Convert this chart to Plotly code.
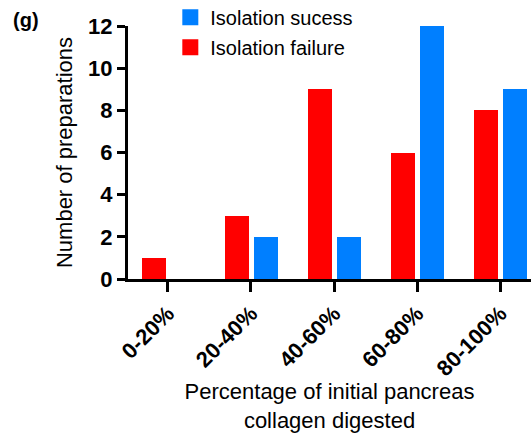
import plotly.graph_objects as go

categories = ["0-20%", "20-40%", "40-60%", "60-80%", "80-100%"]
failure = [1, 3, 9, 6, 8]
success = [0, 2, 2, 12, 9]
y_ticks = [0, 2, 4, 6, 8, 10, 12]

FONT = "Liberation Sans, Arial, sans-serif"
BLUE = "#007FFF"
RED = "#FF0000"

fig = go.Figure()
fig.add_trace(go.Bar(
    x=categories, y=success, name="Isolation sucess",
    marker=dict(color=BLUE, line=dict(width=0)),
    offset=0.035, width=0.29, showlegend=False,
))
fig.add_trace(go.Bar(
    x=categories, y=failure, name="Isolation failure",
    marker=dict(color=RED, line=dict(width=0)),
    offset=-0.315, width=0.29, showlegend=False,
))
# legend entries with larger square swatches
fig.add_trace(go.Scatter(
    x=[None], y=[None], mode="markers", name="Isolation sucess",
    marker=dict(symbol="square", size=22, color=BLUE), legendgroup="s",
))
fig.add_trace(go.Scatter(
    x=[None], y=[None], mode="markers", name="Isolation failure",
    marker=dict(symbol="square", size=22, color=RED), legendgroup="f",
))

fig.update_layout(
    width=531, height=433,
    margin=dict(l=128, r=0, t=26, b=154, autoexpand=False),
    plot_bgcolor="white", paper_bgcolor="white",
    font=dict(family=FONT, color="black"),
    bargap=0,
    showlegend=True,
    legend=dict(
        x=0.105, y=1.112, xanchor="left", yanchor="top",
        font=dict(size=20, family=FONT),
        traceorder="grouped", tracegroupgap=1,
        bgcolor="rgba(0,0,0,0)",
    ),
    xaxis=dict(
        type="category",
        range=[-0.48, 4.37],
        showline=True, linecolor="black", linewidth=3,
        ticks="outside", ticklen=10, tickwidth=3, tickcolor="black",
        tickangle=-45,
        tickfont=dict(size=22, family=FONT, weight="bold"),
        title=dict(text="Percentage of initial pancreas<br>collagen digested",
                   font=dict(size=22, family=FONT), standoff=8),
        showgrid=False, zeroline=False, automargin=False,
    ),
    yaxis=dict(
        range=[0, 12],
        tickvals=y_ticks,
        showline=True, linecolor="black", linewidth=3,
        ticks="outside", ticklen=8, tickwidth=3, tickcolor="black",
        tickfont=dict(size=22, family=FONT, weight="bold"),
        title=dict(text="Number of preparations", font=dict(size=22, family=FONT), standoff=10),
        showgrid=False, zeroline=False, automargin=False,
    ),
    annotations=[dict(
        text="<b>(g)</b>", x=(11 - 128) / 403, y=(279 - 20) / 253,
        xref="paper", yref="paper",
        showarrow=False, font=dict(size=20, family=FONT),
        xanchor="left", yanchor="middle",
    )],
)

fig.write_html(
    "out.html",
    config={"displayModeBar": False},
    post_script="document.body.style.margin='0';document.body.style.overflow='hidden';",
)
